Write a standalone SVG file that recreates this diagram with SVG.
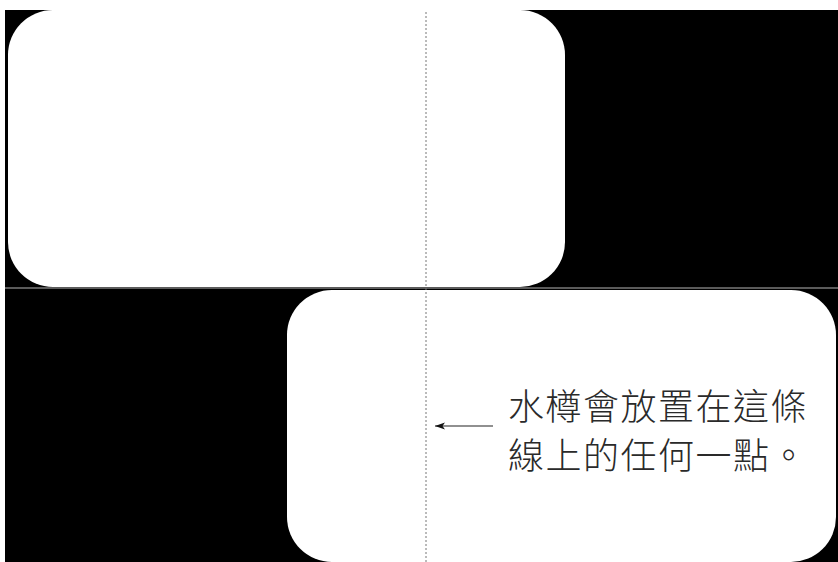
<svg xmlns="http://www.w3.org/2000/svg" width="838" height="562" viewBox="0 0 838 562">
<style>
.card{fill:#ffffff}
.lbl{font-family:"Noto Sans CJK TC","Liberation Sans",sans-serif;font-size:36px;font-weight:300;letter-spacing:1.5px;fill:#2a2a2a}
</style>
<defs>
<marker id="ah" markerWidth="10" markerHeight="8" refX="10" refY="4" orient="auto" markerUnits="userSpaceOnUse">
<path d="M10,4 L0,0.5 L2.5,4 L0,7.5 Z" fill="#111"/>
</marker>
</defs>
<rect x="0" y="0" width="838" height="562" fill="#ffffff"/>
<rect id="bg" x="5" y="10" width="833" height="552" fill="#000000"/>
<g id="card-top"><rect class="card" x="8" y="10" width="557" height="277" rx="45" ry="45"/></g>
<g id="card-bottom"><rect class="card" x="287" y="290" width="549" height="272" rx="45" ry="45"/></g>
<g id="connectors">
<line x1="5" y1="288" x2="838" y2="288" stroke="#7a7a7a" stroke-width="1.5"/>
<line x1="426" y1="12" x2="426" y2="562" stroke="#777" stroke-width="1" stroke-dasharray="2,2"/>
<line x1="493" y1="426" x2="435" y2="426" stroke="#222" stroke-width="1.2" marker-end="url(#ah)"/>
</g>
<g id="label">
<text class="lbl" x="508" y="420">水樽會放置在這條</text>
<text class="lbl" x="508" y="469">線上的任何一點。</text>
</g>
</svg>
